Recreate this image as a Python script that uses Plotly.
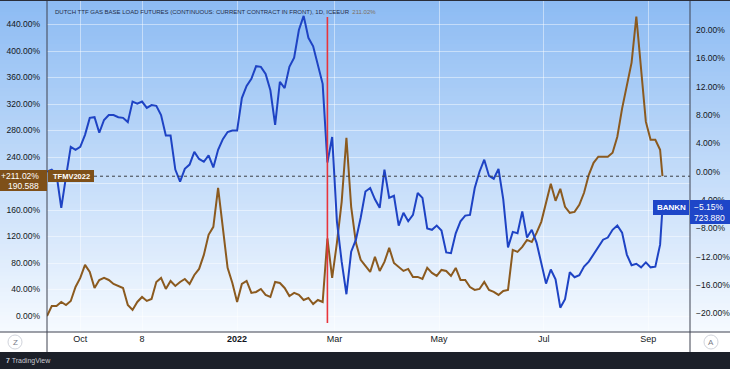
import pandas as pd
import plotly.graph_objects as go

# ---------------- data ----------------
trading_days = pd.bdate_range("2021-09-13", "2022-09-09")
dates = list(trading_days[::2]) + [trading_days[-1]]

# Dutch TTF gas (TFMV2022), % change, left scale
ttf_pct = [0.0, 15.1, 15.1, 21.2, 16.6, 22.7, 43.8, 57.5, 77.1, 66.5,
           42.3, 54.4, 57.5, 54.4, 48.4, 45.4, 42.3, 16.6, 9.1, 21.2,
           28.7, 22.7, 25.7, 51.4, 57.5, 40.8, 52.9, 45.4, 51.4, 55.9,
           48.4, 62.0, 71.1, 92.2, 122.5, 134.6, 193.5, 133.1, 72.6, 49.9,
           21.2, 48.4, 52.9, 34.8, 36.3, 40.8, 31.8, 28.7, 51.4, 49.9,
           42.3, 30.2, 34.8, 31.8, 24.2, 27.2, 18.1, 24.2, 21.2, 117.0,
           57.5, 110.4, 172.4, 269.1, 164.8, 110.4, 84.7, 75.6, 66.5, 89.2,
           68.0, 81.6, 102.8, 80.1, 74.1, 68.0, 71.1, 59.0, 59.0, 55.9,
           72.6, 65.0, 60.5, 69.5, 68.0, 60.5, 72.6, 54.4, 54.4, 43.8,
           39.3, 40.8, 51.4, 39.3, 36.3, 31.8, 37.8, 39.3, 99.8, 96.8,
           104.3, 114.9, 111.9, 125.5, 142.1, 169.3, 199.6, 173.9, 192.0, 164.8,
           155.7, 157.2, 167.8, 186.0, 213.2, 231.3, 240.4, 240.4, 240.4, 246.4,
           270.6, 313.0, 347.8, 382.5, 452.1, 375.0, 293.3, 266.1, 266.1, 251.0,
           211.02]

# BANKN, % change, right scale
bankn_pct = [0.0, 0.3, -0.4, -5.1, -0.7, 3.5, 3.1, 3.5, 5.2, 7.6,
             7.7, 5.5, 7.3, 8.0, 8.0, 7.7, 7.6, 7.0, 9.9, 9.6,
             9.9, 9.0, 9.4, 9.3, 8.0, 5.1, 5.1, 0.3, -1.4, 0.4,
             1.0, 2.8, 1.8, 1.4, 2.3, 0.6, 3.1, 4.6, 5.6, 5.8,
             5.8, 10.4, 12.1, 13.1, 14.9, 14.8, 13.8, 11.5, 6.6, 12.7,
             11.8, 14.8, 16.1, 20.0, 22.0, 18.9, 17.7, 15.2, 12.4, 1.3,
             4.9, -7.0, -12.7, -17.3, -11.3, -9.6, -6.5, -2.8, -2.3, -3.9,
             -5.1, 0.3, -3.7, -3.4, -7.6, -5.8, -7.0, -6.1, -3.0, -3.7,
             -8.0, -8.2, -7.6, -8.3, -11.4, -11.5, -8.7, -7.0, -6.2, -6.1,
             -2.3, 0.0, 1.7, -0.6, -1.0, 0.4, -3.9, -10.7, -8.5, -8.7,
             -5.6, -9.3, -8.2, -10.0, -12.8, -15.8, -13.8, -15.2, -19.2, -18.0,
             -14.2, -14.9, -14.6, -13.4, -12.7, -11.7, -10.7, -9.6, -9.3, -8.2,
             -7.6, -8.6, -11.7, -13.2, -13.0, -13.5, -12.8, -13.5, -13.4, -10.3,
             -5.15]

tick_dates = ["2021-10-01", "2021-11-08", "2022-01-03", "2022-03-01",
              "2022-05-02", "2022-07-01", "2022-09-01"]
tick_labels = ["Oct", "8", "<b>2022</b>", "Mar", "May", "Jul", "Sep"]

# left scale ticks (200% sits under the last-value label and is not shown)
left_ticks = [0, 40, 80, 120, 160, 240, 280, 320, 360, 400, 440]
left_tick_labels = ["0.00%", "40.00%", "80.00%", "120.00%", "160.00%", "240.00%",
                    "280.00%", "320.00%", "360.00%", "400.00%", "440.00%"]
left_hidden_grid = [200]

event_date = "2022-02-24"
ttf_last_label = ["+211.02%", "190.588"]
bankn_last_label = ["−5.15%", "723.880"]
title_text = "DUTCH TTF GAS BASE LOAD FUTURES (CONTINUOUS: CURRENT CONTRACT IN FRONT), 1D, ICEEUR"
title_value = "211.02%"

# ---------------- styling ----------------
W, H = 730, 369
L, R, T, B = 47, 40, 0, 37
PW, PH = W - L - R, H - T - B

def px(x):
    return (x - L) / PW

def py(y):
    return 1 - (y - T) / PH

BROWN = "#8B5A1F"
BROWN_BOX = "#7E5019"
BLUE = "#1E43C4"
BLUE_BOX = "#1E46C8"
TXT = "#131722"
FONT = "Liberation Sans"
GRID = "rgba(255,255,255,0.45)"

fig = go.Figure()
fig.add_trace(go.Scatter(x=dates, y=ttf_pct, mode="lines", yaxis="y",
                         line=dict(color=BROWN, width=2), name="TFMV2022"))
fig.add_trace(go.Scatter(x=dates, y=bankn_pct, mode="lines", yaxis="y2",
                         line=dict(color=BLUE, width=2), name="BANKN"))

shapes = []
# background gradient over chart + price scales
top_c = (140, 187, 243)
bot_c = (246, 250, 255)
n = 83
for k in range(n):
    t0 = k / n
    t1 = (k + 1) / n
    tm = (k + 0.5) / n
    c = tuple(int(round(top_c[i] + (bot_c[i] - top_c[i]) * tm)) for i in range(3))
    shapes.append(dict(type="rect", xref="paper", yref="paper",
                       x0=px(0), x1=px(W), y0=py(PH * t1), y1=py(PH * t0) + 0.001,
                       fillcolor="rgb(%d,%d,%d)" % c, line=dict(width=0), layer="below"))

# grid line under the hidden tick
for gv in left_hidden_grid:
    shapes.append(dict(type="line", xref="paper", yref="y", x0=0, x1=1, y0=gv, y1=gv,
                       line=dict(color=GRID, width=1), layer="below"))

# price line of TTF (dotted)
shapes.append(dict(type="line", xref="paper", yref="y", x0=px(94), x1=1,
                   y0=ttf_pct[-1], y1=ttf_pct[-1],
                   line=dict(color="#3a3d45", width=1, dash="dot")))
# red event line
shapes.append(dict(type="line", xref="x", yref="paper", x0=event_date, x1=event_date,
                   y0=py(323), y1=py(17), line=dict(color="#E8353B", width=1.6)))
# panel borders
BORDER = "#3f4350"
shapes.append(dict(type="line", xref="paper", yref="paper", x0=px(47), x1=px(47),
                   y0=py(352), y1=py(0), line=dict(color=BORDER, width=1)))
shapes.append(dict(type="line", xref="paper", yref="paper", x0=px(690), x1=px(690),
                   y0=py(352), y1=py(0), line=dict(color=BORDER, width=1)))
shapes.append(dict(type="line", xref="paper", yref="paper", x0=px(0), x1=px(W),
                   y0=py(332), y1=py(332), line=dict(color=BORDER, width=1)))
shapes.append(dict(type="line", xref="paper", yref="paper", x0=px(0), x1=px(W),
                   y0=py(0.5), y1=py(0.5), line=dict(color="#2a2e39", width=1)))
# bottom dark bar
shapes.append(dict(type="rect", xref="paper", yref="paper", x0=px(0), x1=px(W),
                   y0=py(H), y1=py(352), fillcolor="#1c2029", line=dict(width=0)))
# Z / A buttons
for cx in (15, 711):
    shapes.append(dict(type="circle", xref="paper", yref="paper",
                       x0=px(cx - 7), x1=px(cx + 7), y0=py(349), y1=py(335),
                       fillcolor="white", line=dict(color="#d1d4dc", width=1)))
# label boxes
shapes.append(dict(type="rect", xref="paper", yref="paper", x0=px(0), x1=px(47),
                   y0=py(191), y1=py(170), fillcolor=BROWN_BOX, line=dict(width=0)))
shapes.append(dict(type="rect", xref="paper", yref="paper", x0=px(48), x1=px(94),
                   y0=py(182), y1=py(170), fillcolor=BROWN_BOX, line=dict(width=0)))
shapes.append(dict(type="rect", xref="paper", yref="paper", x0=px(653), x1=px(689),
                   y0=py(215), y1=py(200), fillcolor=BLUE_BOX, line=dict(width=0)))
shapes.append(dict(type="rect", xref="paper", yref="paper", x0=px(690), x1=px(W),
                   y0=py(224), y1=py(200), fillcolor=BLUE_BOX, line=dict(width=0)))

ann = []
ann.append(dict(xref="paper", yref="paper", x=px(53), y=py(12), xanchor="left",
                yanchor="middle", showarrow=False,
                text=title_text + "  <span style='color:#7d6f62'>" + title_value + "</span>",
                font=dict(family=FONT, size=6.0, color="#1f2c48")))
ann.append(dict(xref="paper", yref="paper", x=px(41), y=py(176), xanchor="right",
                yanchor="middle", showarrow=False, text=ttf_last_label[0],
                font=dict(family=FONT, size=8.5, color="white")))
ann.append(dict(xref="paper", yref="paper", x=px(41), y=py(186), xanchor="right",
                yanchor="middle", showarrow=False, text=ttf_last_label[1],
                font=dict(family=FONT, size=8.5, color="white")))
ann.append(dict(xref="paper", yref="paper", x=px(71), y=py(176), xanchor="center",
                yanchor="middle", showarrow=False, text="<b>TFMV2022</b>",
                font=dict(family=FONT, size=7.5, color="white")))
ann.append(dict(xref="paper", yref="paper", x=px(671), y=py(207.5), xanchor="center",
                yanchor="middle", showarrow=False, text="<b>BANKN</b>",
                font=dict(family=FONT, size=8, color="white")))
ann.append(dict(xref="paper", yref="paper", x=px(709), y=py(207), xanchor="center",
                yanchor="middle", showarrow=False, text=bankn_last_label[0],
                font=dict(family=FONT, size=8.5, color="white")))
ann.append(dict(xref="paper", yref="paper", x=px(709), y=py(218), xanchor="center",
                yanchor="middle", showarrow=False, text=bankn_last_label[1],
                font=dict(family=FONT, size=8.5, color="white")))
ann.append(dict(xref="paper", yref="paper", x=px(15), y=py(342), xanchor="center",
                yanchor="middle", showarrow=False, text="Z",
                font=dict(family=FONT, size=8, color="#787b86")))
ann.append(dict(xref="paper", yref="paper", x=px(711), y=py(342), xanchor="center",
                yanchor="middle", showarrow=False, text="A",
                font=dict(family=FONT, size=8, color="#787b86")))
ann.append(dict(xref="paper", yref="paper", x=px(4), y=py(361), xanchor="left",
                yanchor="middle", showarrow=False, text="<b>7</b> TradingView",
                font=dict(family=FONT, size=7, color="#c8cad2")))

fig.update_layout(
    width=W, height=H,
    margin=dict(l=L, r=R, t=T, b=B, pad=0, autoexpand=False),
    paper_bgcolor="white",
    plot_bgcolor="rgba(0,0,0,0)",
    showlegend=False,
    shapes=shapes,
    annotations=ann,
    font=dict(family=FONT, color=TXT),
    xaxis=dict(type="date", range=["2021-09-13 00:00", "2022-09-26 14:00"],
               rangebreaks=[dict(bounds=["sat", "mon"])], automargin=False,
               tickmode="array", tickvals=tick_dates, ticktext=tick_labels,
               showgrid=True, gridcolor=GRID, gridwidth=1, zeroline=False,
               showline=False, ticks="", tickfont=dict(family=FONT, size=9, color=TXT)),
    yaxis=dict(side="left", range=[-24.15, 477.0], tickmode="array", tickvals=left_ticks,
               ticktext=left_tick_labels, automargin=False, showgrid=True,
               gridcolor=GRID, zeroline=False, showline=False, ticks="",
               ticklabelstandoff=6, tickfont=dict(family=FONT, size=8.5, color=TXT)),
    yaxis2=dict(side="right", overlaying="y", range=[-22.63, 24.24], tick0=0, dtick=4,
                tickformat=".2f", ticksuffix="%", showgrid=False, zeroline=False,
                automargin=False, showline=False, ticks="", ticklabelstandoff=5,
                tickfont=dict(family=FONT, size=8.5, color=TXT)),
)

fig.write_html("out.html", config={"displayModeBar": False},
               post_script="document.body.style.margin='0';")
